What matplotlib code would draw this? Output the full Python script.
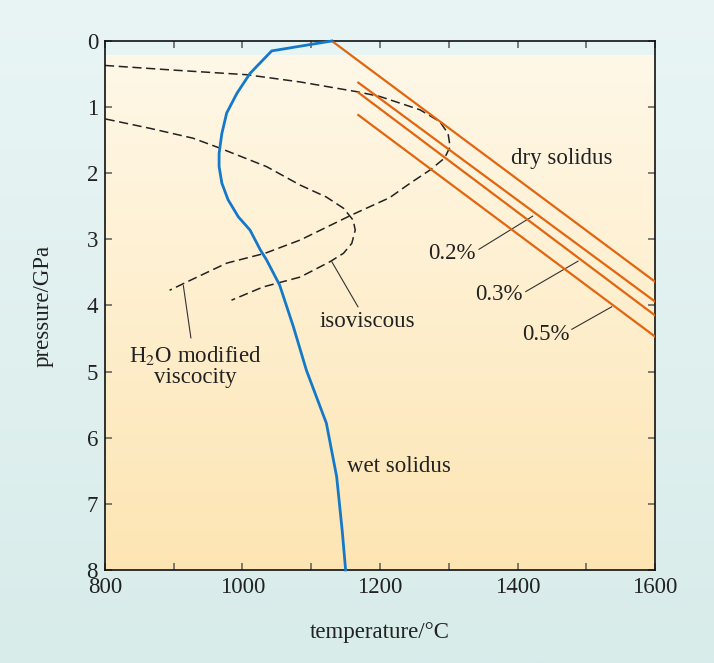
import matplotlib
matplotlib.use("Agg")
import matplotlib.pyplot as plt
import numpy as np
from matplotlib.colors import LinearSegmentedColormap

# wet solidus (blue)
wet_T = [1130, 1042.5, 1011, 992, 977, 970, 966, 966, 970, 979, 994, 1011, 1026, 1035,
         1054, 1074, 1093, 1122, 1137, 1145, 1150]
wet_P = [0, 0.15, 0.49, 0.79, 1.09, 1.40, 1.70, 1.90, 2.15, 2.40, 2.66, 2.86, 3.16, 3.31,
         3.69, 4.32, 4.98, 5.78, 6.59, 7.40, 8.0]

# dry solidus and water-bearing solidi (orange)
dry_T = [1130, 1600]
dry_P = [0, 3.64]
wat_T0 = [1168.5, 1168.5, 1168.5]
wat_P0 = [0.63, 0.78, 1.12]
wat_P1 = [3.94, 4.15, 4.47]
wat_labels = ["0.2%", "0.3%", "0.5%"]

# H2O modified viscosity curve (dashed)
h2o_T = [800, 899, 1006, 1084, 1168, 1200, 1258, 1287, 1299, 1302, 1294, 1273, 1244,
         1214, 1159, 1084, 1033, 977, 924, 894]
h2o_P = [0.37, 0.44, 0.51, 0.62, 0.77, 0.84, 1.04, 1.22, 1.40, 1.60, 1.77, 1.95, 2.15,
         2.37, 2.63, 3.01, 3.21, 3.36, 3.62, 3.77]

# isoviscous curve (dashed)
iso_T = [801, 865, 928, 967, 1035, 1084, 1122, 1147, 1161, 1164, 1159, 1147, 1127, 1084,
         1030, 984]
iso_P = [1.18, 1.32, 1.47, 1.62, 1.90, 2.18, 2.36, 2.53, 2.71, 2.86, 3.06, 3.21, 3.34,
         3.57, 3.72, 3.92]

plt.rcParams['font.family'] = ['Liberation Serif', 'DejaVu Serif']
plt.rcParams['mathtext.fontset'] = 'stix'

fig = plt.figure(figsize=(7.14, 6.63), dpi=100)

# figure background gradient
bg = fig.add_axes([0, 0, 1, 1], zorder=-10)
bg_cmap = LinearSegmentedColormap.from_list("bg", ["#e9f5f5", "#d8ecea"])
bg.imshow(np.linspace(0, 1, 256).reshape(-1, 1), cmap=bg_cmap, aspect='auto',
          extent=[0, 1, 0, 1])
bg.axis('off')

ax = fig.add_axes([0.147, 0.1403, 0.7704, 0.7979])
ax.set_facecolor('none')

# plot area gradient (starts a little below the top)
pa_cmap = LinearSegmentedColormap.from_list("pa", ["#fff8e8", "#fde5b3"])
ax.imshow(np.linspace(0, 1, 256).reshape(-1, 1), cmap=pa_cmap, aspect='auto',
          extent=[800, 1600, 8, 0.22], zorder=0)

dash = (0, (6, 3))
ax.plot(h2o_T, h2o_P, color='#222222', lw=1.1, linestyle=dash, zorder=2)
ax.plot(iso_T, iso_P, color='#222222', lw=1.1, linestyle=dash, zorder=2)

orange = '#e2650f'
ax.plot(dry_T, dry_P, color=orange, lw=1.6, zorder=3)
for t0, p0, p1 in zip(wat_T0, wat_P0, wat_P1):
    ax.plot([t0, 1600], [p0, p1], color=orange, lw=1.6, zorder=3)

ax.plot(wet_T, wet_P, color='#1479c8', lw=2.0, zorder=4, clip_on=False,
        solid_joinstyle='round')

# labels with leader lines
lc = '#333333'
tc = '#222222'
fs = 16.5
ax.text(1464, 1.77, "dry solidus", fontsize=fs, ha='center', va='center', color=tc)
ax.text(1227, 6.44, "wet solidus", fontsize=fs, ha='center', va='center', color=tc)
ax.text(1182, 4.24, "isoviscous", fontsize=fs, ha='center', va='center', color=tc)
ax.plot([1130, 1168], [3.34, 4.02], color=lc, lw=0.8)
ax.text(931, 4.92, "H$_2$O modified\nviscocity", fontsize=fs, ha='center', va='center',
        linespacing=1.0, color=tc)
ax.plot([914, 925], [3.70, 4.49], color=lc, lw=0.8)

lab_xy = [(1304, 3.22), (1373, 3.84), (1441, 4.44)]
lead = [((1344, 3.15), (1422, 2.65)),
        ((1412, 3.79), (1488, 3.33)),
        ((1479, 4.36), (1537, 4.02))]
for lab, (tx, ty), (a, b) in zip(wat_labels, lab_xy, lead):
    ax.text(tx, ty, lab, fontsize=fs, ha='center', va='center', color=tc)
    ax.plot([a[0], b[0]], [a[1], b[1]], color=lc, lw=0.8)

ax.set_xlim(800, 1600)
ax.set_ylim(8, 0)
ax.set_xticks([800, 1000, 1200, 1400, 1600])
ax.set_xticks([900, 1100, 1300, 1500], minor=True)
ax.set_yticks(range(0, 9))
ax.tick_params(axis='both', which='both', direction='in', length=5, width=1.2,
               color='#666666', top=True, right=True, labelsize=fs, labelcolor=tc)
ax.tick_params(axis='x', pad=5)
ax.tick_params(axis='y', pad=5)
for s in ax.spines.values():
    s.set_linewidth(1.2)
    s.set_color('#111111')

ax.set_xlabel("temperature/°C", fontsize=fs, color=tc, labelpad=17)
ax.set_ylabel("pressure/GPa", fontsize=fs, color=tc, labelpad=24)

fig.savefig("out.png", dpi=100)
